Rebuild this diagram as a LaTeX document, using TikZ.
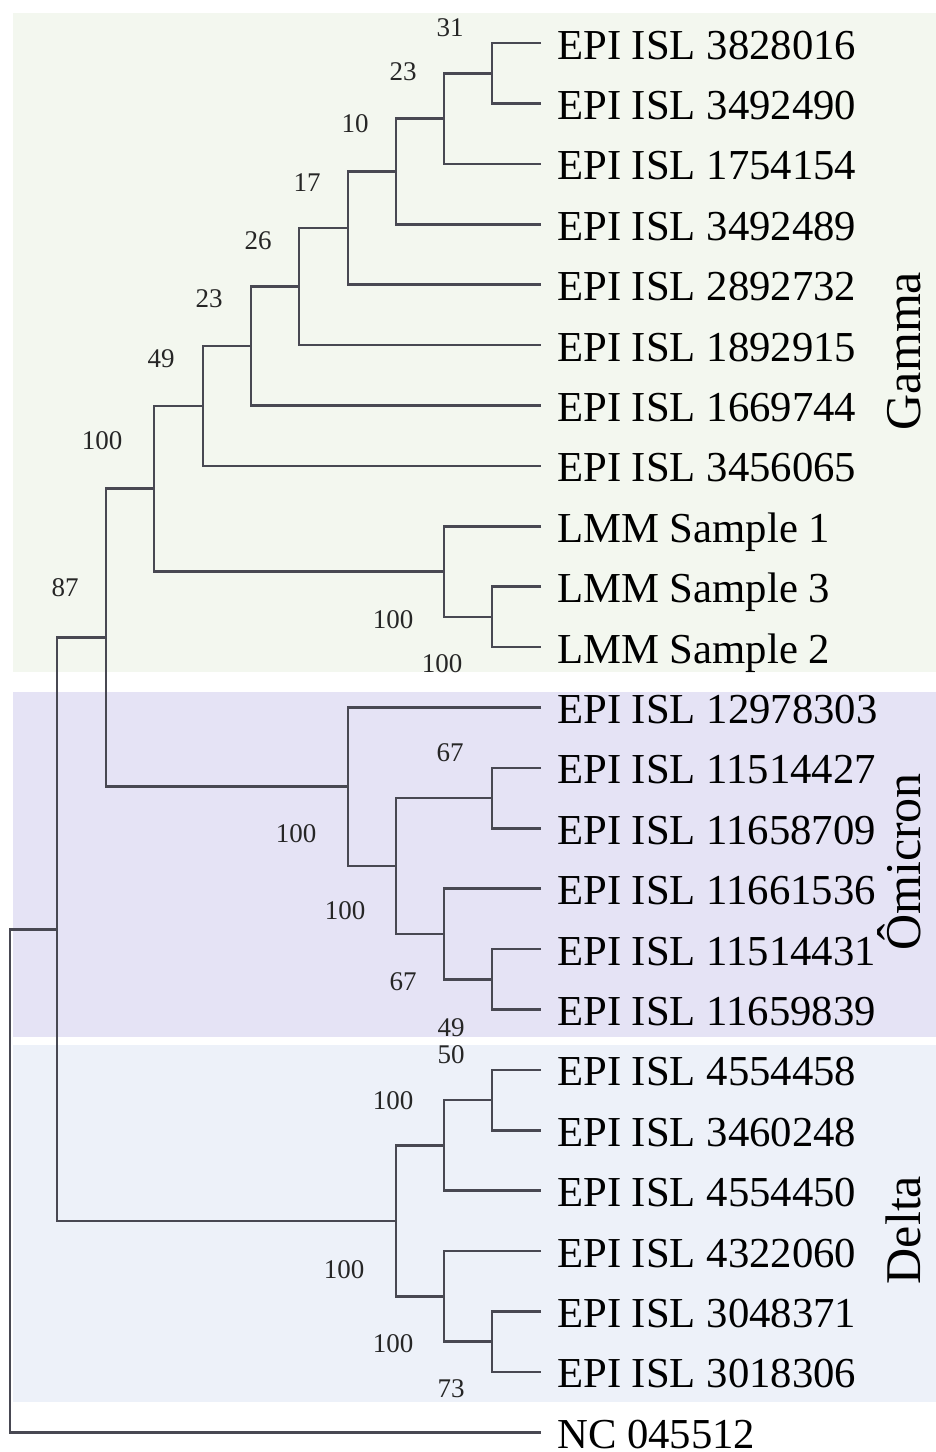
\documentclass[tikz,border=0pt]{standalone}
\usepackage{fontspec}
\setmainfont{Liberation Serif}
\usetikzlibrary{calc}
\definecolor{treeInk}{RGB}{72,72,82}
\definecolor{bandGamma}{RGB}{243,247,239}
\definecolor{bandOmicron}{RGB}{229,227,245}
\definecolor{bandDelta}{RGB}{237,241,249}

\begin{document}
\begin{tikzpicture}[
    x=1pt, y=-1pt,
    branch/.style={draw=treeInk, line width=2.6pt},
    leaf/.style={anchor=west, inner xsep=16pt, inner ysep=0pt,
                 text height=32pt, text depth=0pt,
                 font=\fontsize{42.7}{48}\selectfont},
    boot/.style={inner sep=0pt, text height=18pt, text depth=0pt,
                 font=\fontsize{27}{30}\selectfont, text=black!85},
    clade/.style={rotate=90, inner sep=0pt, text height=33pt, text depth=0pt,
                  font=\fontsize{50}{56}\selectfont}
]
\path[fill=white] (0,0) rectangle (936,1452);
\useasboundingbox (0,0) rectangle (936,1452);

% coloured clade bands
\fill[bandGamma]   (13,13)   rectangle (936,672);
\fill[bandOmicron] (13,692)  rectangle (936,1037);
\fill[bandDelta]   (13,1045) rectangle (936,1402);

% tips, one row each
\foreach \lab [count=\i] in {EPI ISL 3828016, EPI ISL 3492490, EPI ISL 1754154,
    EPI ISL 3492489, EPI ISL 2892732, EPI ISL 1892915, EPI ISL 1669744,
    EPI ISL 3456065, LMM Sample 1, LMM Sample 3, LMM Sample 2,
    EPI ISL 12978303, EPI ISL 11514427, EPI ISL 11658709, EPI ISL 11661536,
    EPI ISL 11514431, EPI ISL 11659839, EPI ISL 4554458, EPI ISL 3460248,
    EPI ISL 4554450, EPI ISL 4322060, EPI ISL 3048371, EPI ISL 3018306,
    NC 045512}
  \node[leaf] (t\i) at (541, {43+60.4*(\i-1)}) {\lab};

% GAMMA --- internal nodes
\coordinate (g31)  at (492, 73.2);
\coordinate (g23a) at (444, 118.5);
\coordinate (g10)  at (396, 171.4);
\coordinate (g17)  at (348, 228.0);
\coordinate (g26)  at (299, 286.5);
\coordinate (g23b) at (251, 346.0);
\coordinate (g49)  at (203, 405.9);
\coordinate (s100c) at (492, 616.8);
\coordinate (s100b) at (444, 571.5);
\coordinate (g100) at (154, 488.7);

% OMICRON --- internal nodes
\coordinate (o67a)  at (492, 798.0);
\coordinate (o49)   at (492, 979.2);
\coordinate (o67b)  at (444, 933.9);
\coordinate (o100b) at (396, 866.0);
\coordinate (o100a) at (348, 786.7);

% DELTA --- internal nodes
\coordinate (d50)   at (492, 1100.0);
\coordinate (d100b) at (444, 1145.3);
\coordinate (d73)   at (492, 1341.6);
\coordinate (d100c) at (444, 1296.3);
\coordinate (d100a) at (396, 1220.8);

% backbone
\coordinate (a87)  at (106, 637.7);
\coordinate (b1)   at (57, 929.3);
\coordinate (root) at (10, 1180.7);

\draw[branch] (t1.west) -| (g31) |- (t2.west);
\draw[branch] (g31) -| (g23a) |- (t3.west);
\draw[branch] (g23a) -| (g10) |- (t4.west);
\draw[branch] (g10) -| (g17) |- (t5.west);
\draw[branch] (g17) -| (g26) |- (t6.west);
\draw[branch] (g26) -| (g23b) |- (t7.west);
\draw[branch] (g23b) -| (g49) |- (t8.west);
\draw[branch] (t10.west) -| (s100c) |- (t11.west);
\draw[branch] (t9.west) -| (s100b) |- (s100c);
\draw[branch] (g49) -| (g100) |- (s100b);

\draw[branch] (t13.west) -| (o67a) |- (t14.west);
\draw[branch] (t16.west) -| (o49) |- (t17.west);
\draw[branch] (t15.west) -| (o67b) |- (o49);
\draw[branch] (o67a) -| (o100b) |- (o67b);
\draw[branch] (t12.west) -| (o100a) |- (o100b);

\draw[branch] (t18.west) -| (d50) |- (t19.west);
\draw[branch] (d50) -| (d100b) |- (t20.west);
\draw[branch] (t22.west) -| (d73) |- (t23.west);
\draw[branch] (t21.west) -| (d100c) |- (d73);
\draw[branch] (d100b) -| (d100a) |- (d100c);

\draw[branch] (g100) -| (a87) |- (o100a);
\draw[branch] (a87) -| (b1) |- (d100a);
\draw[branch] (b1) -| (root) |- (t24.west);

% bootstrap support
\node[boot] (lb-g31)  at (450, 27)  {31};
\node[boot] (lb-g23a) at (403, 71)  {23};
\node[boot] (lb-g10)  at (355, 123) {10};
\node[boot] (lb-g17)  at (307, 182) {17};
\node[boot] (lb-g26)  at (258, 240) {26};
\node[boot] (lb-g23b) at (209, 298) {23};
\node[boot] (lb-g49)  at (161, 358) {49};
\node[boot] (lb-g100) at (102, 440) {100};
\node[boot] (lb-a87)  at (65, 587)  {87};
\node[boot] (lb-s100b) at (393, 619) {100};
\node[boot] (lb-s100c) at (442, 663) {100};
\node[boot] (lb-o67a)  at (450, 752) {67};
\node[boot] (lb-o100a) at (296, 833) {100};
\node[boot] (lb-o100b) at (345, 910) {100};
\node[boot] (lb-o67b)  at (403, 981) {67};
\node[boot] (lb-o49)   at (451, 1027) {49};
\node[boot] (lb-d50)   at (451, 1054) {50};
\node[boot] (lb-d100b) at (393, 1100) {100};
\node[boot] (lb-d100a) at (344, 1269) {100};
\node[boot] (lb-d100c) at (393, 1343) {100};
\node[boot] (lb-d73)   at (451, 1388) {73};

% clade names
\node[clade] (cl-gamma)   at (904, 351)  {Gamma};
\node[clade] (cl-omicron) at (904, 862)  {Ômicron};
\node[clade] (cl-delta)   at (904, 1230) {Delta};

\end{tikzpicture}
\end{document}
